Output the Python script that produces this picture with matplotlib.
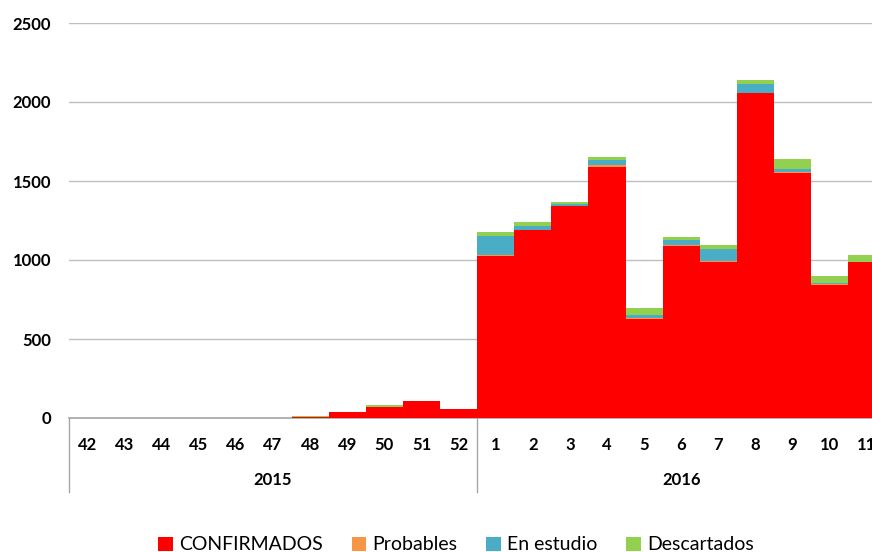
import numpy as np
import matplotlib.pyplot as plt
from matplotlib.patches import Patch

plt.rcParams['font.family'] = ['Lato', 'DejaVu Sans']

# Epidemiological weeks: 42-52 of 2015, then 1-11 of 2016
weeks = ['42', '43', '44', '45', '46', '47', '48', '49', '50', '51', '52',
         '1', '2', '3', '4', '5', '6', '7', '8', '9', '10', '11']
years = ['2015', '2016']
n_2015 = 11

confirmados = [0, 0, 0, 0, 0, 0, 8, 38, 72, 105, 55,
               1023, 1187, 1340, 1590, 628, 1088, 990, 2055, 1548, 844, 990]
probables = [0, 0, 0, 0, 0, 0, 0, 0, 0, 0, 0,
             10, 5, 4, 10, 5, 8, 3, 5, 8, 3, 0]
en_estudio = [0, 0, 0, 0, 0, 0, 0, 0, 0, 0, 0,
              118, 22, 13, 32, 22, 32, 78, 53, 18, 7, 0]
descartados = [0, 0, 0, 0, 0, 0, 6, 0, 8, 0, 0,
               29, 26, 13, 23, 40, 16, 25, 27, 65, 47, 39]

series = [
    ('CONFIRMADOS', confirmados, '#FF0000'),
    ('Probables', probables, '#F79646'),
    ('En estudio', en_estudio, '#4BACC6'),
    ('Descartados', descartados, '#92D050'),
]

W, H = 872, 552
fig = plt.figure(figsize=(W / 100, H / 100), dpi=100)
# axes runs off the right edge like in the original export
ax = fig.add_axes([69 / W, 134 / H, 22 * 37.1 / W, 395 / H])

x = np.arange(len(weeks))
bottom = np.zeros(len(weeks))
for name, vals, col in series:
    vals = np.array(vals, dtype=float)
    ax.bar(x, vals, width=1.0, bottom=bottom, color=col, edgecolor='none',
           label=name, zorder=3)
    bottom += vals

ax.set_xlim(-0.5, len(weeks) - 0.5)
ax.set_ylim(0, 2500)
ax.set_yticks(np.arange(0, 2501, 500))
ax.yaxis.grid(True, color='#BFBFBF', linewidth=1)
ax.set_axisbelow(True)

for s in ['top', 'right', 'left']:
    ax.spines[s].set_visible(False)
ax.spines['bottom'].set_color('#A6A6A6')
ax.spines['bottom'].set_linewidth(1.2)

ax.tick_params(axis='y', length=0, pad=13, labelsize=12)
for lab in ax.get_yticklabels():
    lab.set_fontweight('bold')

ax.set_xticks(x)
ax.set_xticklabels(weeks, fontsize=12, fontweight='bold')
ax.tick_params(axis='x', length=0, pad=14)

# year group labels and separators
trans = ax.get_xaxis_transform()
year_centers = [(n_2015 - 1) / 2, n_2015 + (len(weeks) - n_2015 - 1) / 2]
for yr, cx in zip(years, year_centers):
    ax.text(cx, -62 / 395, yr, transform=trans, ha='center', va='center',
            fontsize=12, fontweight='bold')
for sx in [-0.5, n_2015 - 0.5]:
    ax.plot([sx, sx], [0, -74 / 395], transform=trans, color='#A6A6A6',
            linewidth=1, clip_on=False)

handles = [Patch(facecolor=c, edgecolor='none', label=n) for n, _, c in series]
fig.legend(handles=handles, loc='center', bbox_to_anchor=(456 / W, 7 / H),
           ncol=4, frameon=False, fontsize=14, handlelength=0.75,
           handleheight=0.75, handletextpad=0.3, columnspacing=1.5)

fig.savefig('out.png', dpi=100)
